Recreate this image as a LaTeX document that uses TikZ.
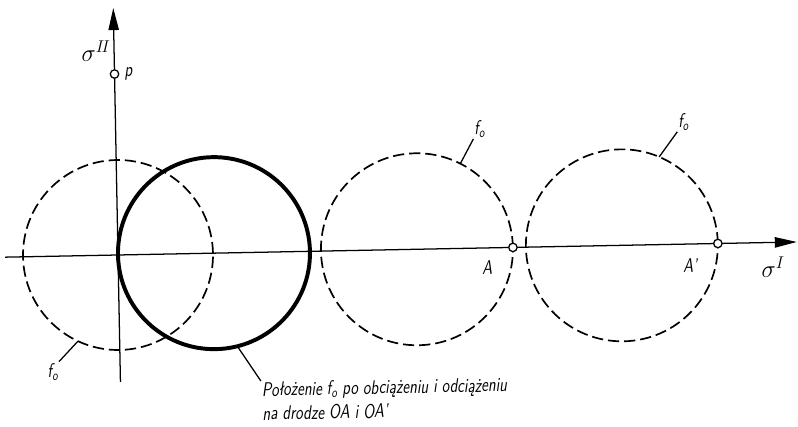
\documentclass[tikz,border=0pt]{standalone}
\usepackage{fontspec}
\usepackage{tikz}
\usetikzlibrary{arrows.meta,calc,positioning}

\tikzset{
    fcircle/.style={dash pattern=on 8pt off 3.5pt, line width=1.2pt},
    loadcircle/.style={line width=2.8pt},
    hollow/.style={circle, draw, fill=white, line width=0.9pt, inner sep=0pt, minimum size=6pt},
    lbl/.style={font=\fontsize{14}{17}\selectfont\sffamily\itshape, inner sep=0.5pt, transform shape, xscale=0.78},
    sig/.style={font=\fontsize{18}{20}\selectfont, inner sep=0pt, transform shape}
}

\begin{document}
\begin{tikzpicture}[>={Triangle[length=5.5mm, width=2.6mm]}, x=0.025cm, y=0.025cm, line width=0.9pt]
    \useasboundingbox (-118,-172) rectangle (680,255);
    \begin{scope}[rotate=1.1]
        % 坐标轴
        \coordinate (O) at (0,0);
        \coordinate (xbeg) at (-113,0);
        \coordinate (xend) at (679,0);
        \coordinate (ybeg) at (0,-127);
        \coordinate (yend) at (0,247);
        \draw[->] (xbeg) -- (xend);
        \draw[->] (ybeg) -- (yend);
        \node[sig] (s2) at ($(yend)+(-18,-43)$) {$\sigma^{I\!I}$};
        \node[sig] (s1) at ($(xend)+(-24,-25)$) {$\sigma^{I}$};

        % 圆心
        \coordinate (c1) at (0,0);
        \coordinate (c2) at (96,0);
        \coordinate (c3) at (299,0);
        \coordinate (c4) at (504,0);

        % 屈服面 f_o
        \draw[fcircle] (c1) circle[radius=95];
        \draw[loadcircle] (c2) circle[radius=96];
        \draw[fcircle] (c3) circle[radius=96];
        \draw[fcircle] (c4) circle[radius=96];

        % 点 P, A, A'
        \node[hollow] (P) at (0,181) {};
        \node[hollow] (A) at (395,0) {};
        \node[hollow] (Ap) at (600,0) {};
        \node[lbl, right=3pt of P] (Plab) {p};
        \node[lbl] (Alab) at ($(A)+(-26,-20)$) {A};
        \node[lbl] (Aplab) at ($(Ap)+(-28,-22)$) {A'};

        % 引线与标注
        \coordinate (t1) at ($(c1)+(-116:95)$);
        \coordinate (e1) at ($(t1)+(-134:28)$);
        \node[lbl, anchor=north east] (f1) at (e1) {f\textsubscript{o}};
        \draw (t1) -- (f1.north east);

        \coordinate (t3) at ($(c3)+(62:96)$);
        \coordinate (e3) at ($(t3)+(61:28)$);
        \node[lbl, anchor=south west] (f3) at (e3) {f\textsubscript{o}};
        \draw (t3) -- (f3.south west);

        \coordinate (t4) at ($(c4)+(66:96)$);
        \coordinate (e4) at ($(t4)+(53:31)$);
        \node[lbl, anchor=south west] (f4) at (e4) {f\textsubscript{o}};
        \draw (t4) -- (f4.south west);

        \coordinate (t2) at ($(c2)+(-77:96)$);
        \coordinate (e2) at ($(t2)+(-57:42)$);
        \node[lbl, anchor=north west, align=left] (opis) at (e2)
            {Położenie f\textsubscript{o} po obciążeniu i odciążeniu\\na drodze OA i OA'};
        \draw (t2) -- (opis.north west);
    \end{scope}
\end{tikzpicture}
\end{document}
